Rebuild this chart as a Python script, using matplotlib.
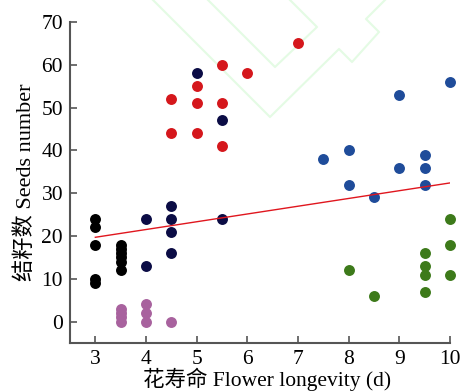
import matplotlib
matplotlib.use("Agg")
import matplotlib.pyplot as plt
from matplotlib.lines import Line2D

plt.rcParams['font.family'] = ['Liberation Serif', 'Noto Sans CJK SC']

# data
black_x = [3, 3, 3, 3, 3, 3.5, 3.5, 3.5, 3.5, 3.5, 3.5]
black_y = [24, 22, 18, 10, 9, 18, 17, 16, 15, 14, 12]
navy_x = [4, 4, 4.5, 4.5, 4.5, 4.5, 5, 5.5, 5.5]
navy_y = [24, 13, 27, 24, 21, 16, 58, 47, 24]
red_x = [4.5, 4.5, 5, 5, 5, 5.5, 5.5, 5.5, 6, 7]
red_y = [52, 44, 55, 51, 44, 60, 51, 41, 58, 65]
blue_x = [7.5, 8, 8, 8.5, 9, 9, 9.5, 9.5, 9.5, 10]
blue_y = [38, 40, 32, 29, 53, 36, 39, 36, 32, 56]
green_x = [8, 8.5, 9.5, 9.5, 9.5, 9.5, 10, 10, 10]
green_y = [12, 6, 16, 13, 11, 7, 24, 18, 11]
pink_x = [3.5, 3.5, 3.5, 3.5, 4, 4, 4, 4.5]
pink_y = [0, 1, 2, 3, 4, 2, 0, 0]
fit_x = [3, 10]
fit_y = [19.7, 32.4]

xticks = [3, 4, 5, 6, 7, 8, 9, 10]
yticks = [0, 10, 20, 30, 40, 50, 60, 70]

fig = plt.figure(figsize=(4.64, 3.92), dpi=100)

# faint watermark
wm_color = '#e4fbe4'
wm1 = [(153, 0), (270, 117), (339, 49), (352, 62), (379, 32), (366, 19), (385, 0)]
wm2 = [(208, 0), (275, 67), (317, 27), (290, 0)]
for pts in (wm1, wm2):
    xs = [p[0] / 464 for p in pts]
    ys = [1 - p[1] / 392 for p in pts]
    fig.add_artist(Line2D(xs, ys, color=wm_color, lw=1.5, zorder=0))

ax = fig.add_axes([70 / 464, 49 / 392, 380 / 464, 321 / 392])
ax.patch.set_alpha(0)

s = 62
ax.scatter(black_x, black_y, s=s, color='#000000', clip_on=False, zorder=3, linewidths=0)
ax.scatter(navy_x, navy_y, s=s, color='#0b0c45', clip_on=False, zorder=3, linewidths=0)
ax.scatter(red_x, red_y, s=s, color='#d5171c', clip_on=False, zorder=3, linewidths=0)
ax.scatter(blue_x, blue_y, s=s, color='#1f4c9a', clip_on=False, zorder=3, linewidths=0)
ax.scatter(green_x, green_y, s=s, color='#3d7a1a', clip_on=False, zorder=3, linewidths=0)
ax.scatter(pink_x, pink_y, s=s, color='#a8629e', clip_on=False, zorder=3, linewidths=0)
ax.plot(fit_x, fit_y, color='#e0161e', lw=1.0, zorder=4)

ax.set_xlim(2.5, 10)
ax.set_ylim(-5, 70)
ax.set_xticks(xticks)
ax.set_yticks(yticks)
for sp in ['top', 'right']:
    ax.spines[sp].set_visible(False)
for sp in ['left', 'bottom']:
    ax.spines[sp].set_color('#555555')
    ax.spines[sp].set_linewidth(1.5)
ax.tick_params(direction='in', length=5, width=1.2, color='#555555', labelsize=15.5, pad=5)
ax.set_xlabel('花寿命 Flower longevity (d)', fontsize=15.5, labelpad=0)
ax.xaxis.set_label_coords(0.518, -0.077)
ax.set_ylabel('结籽数 Seeds number', fontsize=16, labelpad=4)

fig.savefig('out.png', dpi=100)
